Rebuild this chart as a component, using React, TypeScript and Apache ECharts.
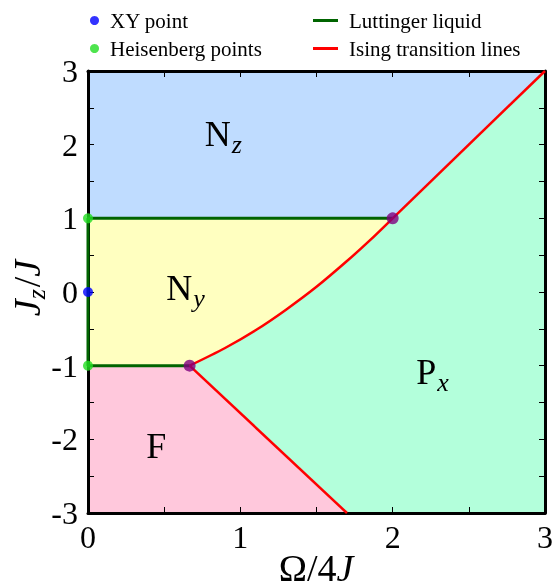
import { useEffect, useRef } from 'react';
import * as echarts from 'echarts';

// ---- data ----
const xTicks = [0, 1, 2, 3];
const yTicks = [-3, -2, -1, 0, 1, 2, 3];

// Ising transition line between N_y and P_x
const isingCurve: [number, number][] = [
  [0.667, -1], [0.9, -0.76], [1.1, -0.52], [1.3, -0.24], [1.5, 0.07], [1.7, 0.42], [1.85, 0.7], [2, 1],
];
const isingLower: [number, number][] = [[0.667, -1], [1.7, -3]];
const isingUpper: [number, number][] = [[2, 1], [3, 3]];
const luttingerLine: [number, number][] = [[0.667, -1], [0, -1], [0, 1], [2, 1]];
const xyPoint: [number, number][] = [[0, 0]];
const heisenbergPoints: [number, number][] = [[0, 1], [0, -1]];
const criticalPoints: [number, number][] = [[0.667, -1], [2, 1]];

const regionNz: [number, number][] = [[0, 1], [2, 1], [3, 3], [0, 3]];
const regionNy: [number, number][] = [[0, -1], ...isingCurve, [0, 1]];
const regionF: [number, number][] = [[0, -3], [1.7, -3], [0.667, -1], [0, -1]];
const regionPx: [number, number][] = [[1.7, -3], [3, -3], [3, 3], [2, 1], ...isingCurve.slice().reverse()];

const regionLabels = [
  { main: 'N', sub: 'z', pos: [0.766, 2.144] },
  { main: 'N', sub: 'y', pos: [0.514, 0.054] },
  { main: 'F', sub: '', pos: [0.383, -2.087] },
  { main: 'P', sub: 'x', pos: [2.155, -1.092] },
];

const FONT = 'Liberation Serif';

export default function App() {
  const ref = useRef<HTMLDivElement>(null);
  useEffect(() => {
    if (!ref.current) return;
    const chart = echarts.init(ref.current, null, { renderer: 'svg' });

    const regionSeries = (name: string, poly: [number, number][], color: string) => ({
      type: 'custom',
      name,
      data: [[0, 0]],
      silent: true,
      z: 1,
      renderItem: (_p: any, api: any) => ({
        type: 'polygon',
        shape: { points: poly.map((pt) => api.coord(pt)) },
        style: { fill: color, stroke: color, lineWidth: 0.5 },
      }),
    });

    const axisCommon = {
      type: 'value',
      splitLine: { show: false },
      axisLine: { show: true, onZero: false, lineStyle: { color: '#000', width: 3 } },
      axisTick: { show: true, inside: true, length: 6, lineStyle: { color: '#000', width: 1 } },
      z: 5,
    };

    const legendText = { fontSize: 21, fontFamily: FONT, color: '#000', lineHeight: 21, padding: [0, 0, 0, 6] };

    const option: any = {
      animation: false,
      grid: { left: 88, right: 8, top: 71, bottom: 75, containLabel: false, outerBoundsMode: 'none' },
      graphic: [
        {
          type: 'text',
          x: 316,
          y: 568,
          z: 10,
          style: {
            text: '{u|Ω/4}{i|J}',
            align: 'center',
            verticalAlign: 'middle',
            rich: {
              u: { fontSize: 38, fontFamily: FONT, fill: '#000' },
              i: { fontSize: 38, fontFamily: FONT, fontStyle: 'italic', fill: '#000' },
            },
          },
        },
        {
          type: 'text',
          x: 27,
          y: 288,
          rotation: Math.PI / 2,
          z: 10,
          style: {
            text: '{i|J}{s|z}{u|/}{i|J}',
            align: 'center',
            verticalAlign: 'middle',
            rich: {
              u: { fontSize: 38, fontFamily: FONT, fill: '#000' },
              i: { fontSize: 38, fontFamily: FONT, fontStyle: 'italic', fill: '#000' },
              s: { fontSize: 26, fontFamily: FONT, fontStyle: 'italic', fill: '#000', padding: [18, 2, 0, 0] },
            },
          },
        },
      ],
      legend: [
        {
          data: [
            { name: 'XY point', icon: 'circle' },
            { name: 'Heisenberg points', icon: 'circle' },
          ],
          orient: 'vertical',
          left: 90,
          top: 10,
          padding: 0,
          itemWidth: 9,
          itemHeight: 9,
          itemGap: 7,
          selectedMode: false,
          textStyle: legendText,
        },
        {
          data: [
            { name: 'Luttinger liquid', icon: 'rect' },
            { name: 'Ising transition lines', icon: 'rect' },
          ],
          orient: 'vertical',
          left: 313,
          top: 10,
          padding: 0,
          itemWidth: 25,
          itemHeight: 3,
          itemGap: 7,
          selectedMode: false,
          textStyle: legendText,
        },
      ],
      xAxis: [
        {
          ...axisCommon,
          min: 0, max: 3, interval: 0.5, position: 'bottom',
          axisLabel: {
            formatter: (v: number) => (xTicks.includes(v) ? String(v) : ''),
            fontSize: 32, fontFamily: FONT, color: '#000', margin: 8,
          },
        },
        {
          ...axisCommon,
          min: 0, max: 3, interval: 0.5, position: 'top',
          axisLabel: { show: false },
        },
      ],
      yAxis: [
        {
          ...axisCommon,
          min: -3, max: 3, interval: 0.5, position: 'left',
          axisLabel: {
            formatter: (v: number) => (yTicks.includes(v) ? String(v) : ''),
            fontSize: 32, fontFamily: FONT, color: '#000', margin: 10,
          },
        },
        {
          ...axisCommon,
          min: -3, max: 3, interval: 0.5, position: 'right',
          axisLabel: { show: false },
        },
      ],
      series: [
        regionSeries('Nz', regionNz, '#bfdcff'),
        regionSeries('Ny', regionNy, '#ffffc0'),
        regionSeries('F', regionF, '#ffc8dc'),
        regionSeries('Px', regionPx, '#b3ffdb'),
        {
          type: 'custom',
          name: 'labels',
          data: regionLabels.map((r) => r.pos),
          silent: true,
          z: 3,
          renderItem: (params: any, api: any) => {
            const r = regionLabels[params.dataIndex];
            const p = api.coord(r.pos);
            return {
              type: 'text',
              x: p[0],
              y: p[1],
              style: {
                text: r.sub ? `{m|${r.main}}{s|${r.sub}}` : `{m|${r.main}}`,
                align: 'left',
                verticalAlign: 'middle',
                rich: {
                  m: { fontSize: 36, fontFamily: FONT, fill: '#000' },
                  s: { fontSize: 26, fontFamily: FONT, fontStyle: 'italic', fill: '#000', padding: [20, 0, 0, 1] },
                },
              },
            };
          },
        },
        {
          type: 'line',
          name: 'Luttinger liquid',
          data: luttingerLine,
          symbol: 'none',
          clip: false,
          z: 6,
          color: '#006400',
          lineStyle: { color: '#006400', width: 3 },
        },
        {
          type: 'line',
          name: 'Ising transition lines',
          data: isingCurve,
          smooth: 0.3,
          symbol: 'none',
          clip: false,
          z: 6,
          color: '#ff0000',
          lineStyle: { color: '#ff0000', width: 2.5 },
        },
        {
          type: 'line',
          name: 'Ising transition lines',
          data: isingLower,
          symbol: 'none',
          clip: false,
          z: 6,
          color: '#ff0000',
          lineStyle: { color: '#ff0000', width: 2.5 },
        },
        {
          type: 'line',
          name: 'Ising transition lines',
          data: isingUpper,
          symbol: 'none',
          clip: false,
          z: 6,
          color: '#ff0000',
          lineStyle: { color: '#ff0000', width: 2.5 },
        },
        {
          type: 'scatter',
          name: 'XY point',
          data: xyPoint,
          symbolSize: 10,
          clip: false,
          z: 8,
          itemStyle: { color: '#0000ff' },
        },
        {
          type: 'scatter',
          name: 'Heisenberg points',
          data: heisenbergPoints,
          symbolSize: 10,
          clip: false,
          z: 8,
          itemStyle: { color: '#22dd22' },
        },
        {
          type: 'scatter',
          name: 'critical points',
          data: criticalPoints,
          symbolSize: 12,
          clip: false,
          z: 8,
          itemStyle: { color: '#800080' },
        },
      ],
    };
    chart.setOption(option);
    return () => chart.dispose();
  }, []);
  return <div ref={ref} style={{ position: 'fixed', left: 0, top: 0, width: 553, height: 588 }} />;
}
